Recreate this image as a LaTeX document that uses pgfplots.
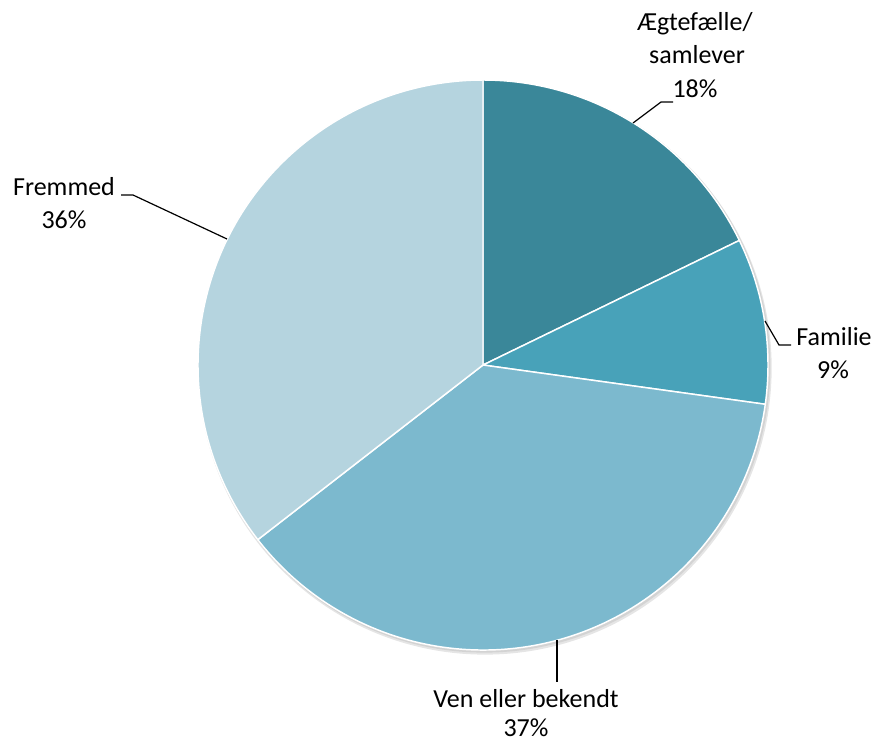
\documentclass[border=0pt]{standalone}
\usepackage{fontspec}
\setmainfont{Carlito}
\usepackage{pgfplots}
\usepackage{pgfplotstable}
\pgfplotsset{compat=1.18}

\definecolor{sliceA}{HTML}{3A8799}
\definecolor{sliceB}{HTML}{48A2B9}
\definecolor{sliceC}{HTML}{7CB9CE}
\definecolor{sliceD}{HTML}{B5D4DF}

% share of each group, percent (clockwise from 12 o'clock)
\pgfplotstableread{
label value
Aegtefaelle 17.8
Familie 9.4
Ven 37.3
Fremmed 35.5
}\piedata

\begin{document}
\begin{tikzpicture}
\pgfplotstablegetelem{0}{value}\of\piedata\let\vA\pgfplotsretval
\pgfplotstablegetelem{1}{value}\of\piedata\let\vB\pgfplotsretval
\pgfplotstablegetelem{2}{value}\of\piedata\let\vC\pgfplotsretval
\pgfplotstablegetelem{3}{value}\of\piedata\let\vD\pgfplotsretval
\pgfmathsetmacro\aA{90}
\pgfmathsetmacro\aB{\aA-3.6*\vA}
\pgfmathsetmacro\aC{\aB-3.6*\vB}
\pgfmathsetmacro\aD{\aC-3.6*\vC}
\pgfmathsetmacro\aE{\aD-3.6*\vD}
\def\R{213.75pt}
\begin{axis}[hide axis, scale only axis,
  width=654.75pt, height=556.5pt,
  xmin=0, xmax=873, ymin=0, ymax=742, y dir=reverse,
  clip=false,
]
% soft shadow
\fill[black, opacity=0.10] ([xshift=1.5pt,yshift=-2.2pt]axis cs:483,365) circle[radius=215pt];
\fill[black, opacity=0.08] ([xshift=1pt,yshift=-1.2pt]axis cs:483,365) circle[radius=214.5pt];
\filldraw[fill=sliceA, draw=white, line width=1.1pt, line join=round]
  (axis cs:483,365) -- ++(\aA:\R) arc[start angle=\aA, end angle=\aB, radius=\R] -- cycle;
\filldraw[fill=sliceB, draw=white, line width=1.1pt, line join=round]
  (axis cs:483,365) -- ++(\aB:\R) arc[start angle=\aB, end angle=\aC, radius=\R] -- cycle;
\filldraw[fill=sliceC, draw=white, line width=1.1pt, line join=round]
  (axis cs:483,365) -- ++(\aC:\R) arc[start angle=\aC, end angle=\aD, radius=\R] -- cycle;
\filldraw[fill=sliceD, draw=white, line width=1.1pt, line join=round]
  (axis cs:483,365) -- ++(\aD:\R) arc[start angle=\aD, end angle=\aE, radius=\R] -- cycle;

% leader lines
\draw[line width=0.9pt] (axis cs:633,123) -- (axis cs:661,102) -- (axis cs:673,102);
\draw[line width=0.9pt] (axis cs:765,321) -- (axis cs:779,345) -- (axis cs:791,345);
\draw[line width=0.9pt] (axis cs:227,239) -- (axis cs:133,195) -- (axis cs:121,195);
\draw[line width=0.9pt] (axis cs:557,640) -- (axis cs:557,682);

% labels
\tikzset{lbl/.style={anchor=base, inner sep=0pt, font=\fontsize{19.5}{25}\selectfont}}
\node[lbl] at (axis cs:695,31) {Ægtefælle/};
\node[lbl] at (axis cs:697,64) {samlever};
\node[lbl] at (axis cs:695,97) {18\%};
\node[lbl] at (axis cs:834,345) {Familie};
\node[lbl] at (axis cs:833,378) {9\%};
\node[lbl] at (axis cs:64,195) {Fremmed};
\node[lbl] at (axis cs:64,228) {36\%};
\node[lbl] at (axis cs:526,707) {Ven eller bekendt};
\node[lbl] at (axis cs:526,736) {37\%};
\end{axis}
\pgfresetboundingbox
\path[use as bounding box] (current axis.south west) rectangle (current axis.north east);
\end{tikzpicture}
\end{document}
